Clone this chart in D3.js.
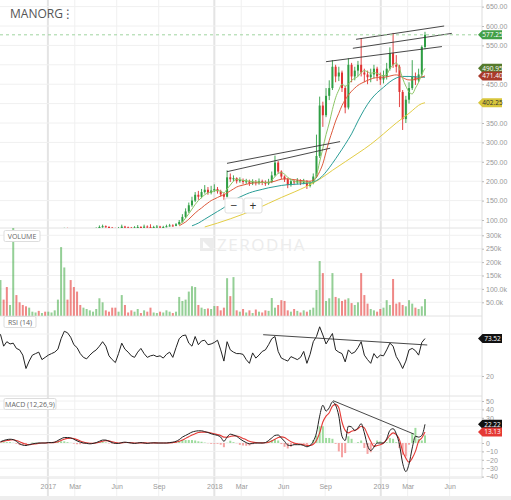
<!DOCTYPE html>
<html lang="en">
<head>
  <meta charset="UTF-8">
  <title>MANORG</title>
  <script src="https://d3js.org/d3.v7.min.js"></script>
  <style>
    body { margin: 0; background: #fff; }
    svg { display: block; font-family: "Open Sans", "DejaVu Sans", sans-serif; }
    .axis text { fill: #999; font-size: 7px; }
    .axis line { stroke: #bbb; }
    .axis .domain { display: none; }
    .pane-label rect { fill: #fff; stroke: #ddd; }
    .pane-label text { fill: #666; font-size: 7px; }
  </style>
</head>
<body>
<svg id="chart" width="511" height="500"></svg>
<script>
  // weekly bars, first week starting 2016-09-19
  var startWeek = new Date(2016, 8, 19);

  var closes = [72,70,68,69,70,67,65,64,61,62, 64,65,64,66,65,66,67,68,70,75,
    78,77,76,75,73,72,72,73,75,76, 78,82,84,82,80,78,77,79,83,81,
    80,79,81,82,80,83,82,81,82,83, 81,82,84,86,85,89,95,108,122,138,
    150,165,160,172,178,170,176,180,174,166, 160,210,205,208,200,203,198,200,195,198,
    195,200,196,194,198,215,248,225,212,205, 190,200,197,202,196,200,188,195,212,265,
    395,370,420,440,495,470,480,440,390,500, 470,485,500,480,475,468,475,490,470,462,
    470,490,530,500,495,430,360,410,440,470, 460,475,546,577.25];
  var highs = [75,73,71,71,73,71,68,66,65,64, 66,67,67,68,68,68,69,70,72,78,
    80,80,79,78,77,75,74,75,77,79, 81,86,88,86,84,82,80,82,88,85,
    83,82,84,87,84,88,86,89,85,87, 85,85,88,90,89,92,100,115,130,145,
    160,172,175,180,190,185,188,192,185,178, 170,228,220,215,210,210,207,206,204,205,
    203,207,204,202,206,225,266,252,228,215, 208,205,204,208,205,206,203,200,220,320,
    418,405,440,460,512,500,495,485,445,517, 505,495,510,569,490,485,490,500,495,480,
    485,505,545,582,525,500,435,420,455,512, 480,490,550,585];
  var lows = [70,68,66,66,67,65,63,62,59,59, 61,62,62,63,63,64,65,66,67,69,
    74,75,74,73,71,70,70,71,72,74, 75,77,80,80,78,76,75,76,78,79,
    78,77,78,79,78,79,80,79,80,80, 79,80,81,83,83,84,87,93,105,118,
    134,146,152,156,168,165,166,172,168,160, 152,158,198,200,194,196,192,193,188,190,
    189,191,190,188,190,195,212,220,205,198, 182,186,190,192,190,192,180,184,192,208,
    260,340,365,409,435,455,458,430,375,385, 455,460,470,470,455,450,455,465,458,448,
    452,462,485,492,480,391,332,350,400,435, 448,455,468,540];

  // volume, thousands
  var volumes = [133,60,107,40,330,77,50,40,35,30, 15,12,18,10,15,15,12,20,60,256,
    180,60,133,107,90,40,30,25,20,15, 25,65,50,20,15,30,30,15,77,40,
    12,20,15,25,10,20,15,30,12,10, 15,12,20,15,10,15,70,55,60,90,
    110,107,40,30,25,27,25,36,36,20, 30,140,73,144,20,15,25,12,20,10,
    23,15,12,20,18,66,30,40,58,55, 20,15,25,18,12,20,15,22,30,96,
    204,159,55,65,159,70,65,55,60,65, 47,40,50,159,77,45,25,20,15,25,
    30,58,40,137,45,50,40,35,58,45, 30,25,35,62];

  var rsi = [79.6,62.6,69.0,65.8,66.9,59.4,57.3,49.8,30.7,41.3, 49.8,52.0,54.1,43.4,46.6,49.8,52.0,54.1,58.3,73.3,
    83.9,81.8,75.4,64.7,60.5,52.0,46.6,44.5,49.8,54.1, 57.3,62.6,69.0,62.6,48.8,43.4,39.2,52.0,66.9,58.3,
    54.1,48.8,46.6,54.1,59.4,52.0,46.6,48.8,49.8,47.7, 48.8,45.6,50.9,54.1,46.6,60.5,73.3,77.5,78.6,66.9,
    62.6,76.4,64.7,70.1,71.1,64.7,65.8,67.9,71.1,57.3, 41.3,69.0,57.3,54.1,52.0,52.0,50.9,43.4,38.1,53.0,
    45.6,49.8,55.1,57.3,64.7,73.3,76.4,55.1,45.6,43.4, 41.3,47.7,45.6,43.4,46.6,55.1,38.1,50.9,69.0,76.4,
    90.3,78.6,65.8,73.3,80.7,57.3,54.1,52.0,40.2,57.3, 52.0,54.1,60.5,69.0,49.8,43.4,38.1,52.0,45.6,49.8,
    48.8,57.3,66.9,62.6,47.7,40.2,30.7,41.3,57.3,59.4, 56.2,49.8,67.9,73.52];

  var macd = [1.5,3,4,4.5,4,2,-1,-2.5,-3,-2, -1,-0.5,0,0,0,0.5,0.5,1,3,5,
    6.5,6.5,6,4.5,2.5,1,0,-0.5,-1,-0.5, 0.5,2,3.5,3.5,2,0.5,-0.5,-0.5,0.5,1,
    0.5,0,-0.5,0,0.5,0,-0.5,0,0.2,0, 0,0,0,0.5,1,2,4,7,9,11,
    13,14,14.5,14.5,13.5,12.5,11,10,9,7, 2,7,10.5,9.5,8,5,2.5,0.5,-1,-0.5,
    0,0,0,0.5,3,6,9,9.5,6,2, -2.5,-3,-2,-2,-2,-3,-4.5,-3,2,12,
    32,45,38,42,49,45,32,8,3,20, 19,15,18,23,12,-3,-9,-5,0,0,
    0,5,15,17,11,-2,-24,-34,-25,-6, 8,7,9,22.22];
  var signal = [1,2,3,3.5,3.8,3,1.5,0,-1.5,-2, -1.5,-1,-0.5,0,0,0.3,0.4,0.7,1.5,3,
    4.5,5.5,5.8,5.3,4,2.5,1.2,0.3,-0.3,-0.5, 0,1,2,2.8,2.5,1.5,0.5,0,0.2,0.6,
    0.6,0.3,0,0,0.2,0.2,0,0,0.1,0.1, 0,0,0,0.2,0.5,1,2,3.5,5.5,7.5,
    9.5,11,12.5,13,13,12.8,12,11,10,9, 7,6.8,7.8,8.5,8.3,7.2,5.5,3.8,2,1,
    0.5,0.3,0.2,0.3,1,2.5,4.5,6.5,7.3,6.5, 4,1.5,0,-1,-1.5,-2,-2.8,-3,-1.5,3,
    12,25,32,36,44,46,42,25,15,12, 14,15,17,20,18,10,2,-4,-3,-2,
    0,4,9,12,10,4,-10,-18,-23,-18, -10,2,6,13.13];

  // moving averages (week index, value)
  var maFastStart = 56;
  var maFast = [88,95,105,116,128,140,150,158,165,170, 172,175,176,174,170,180,190,200,205,204,
    202,201,200,199,198,198,197,197,197,202, 212,220,222,218,210,205,200,198,198,199,
    197,195,198,215,250,285,320,350,385,415, 435,450,445,450,460,465,470,480,485,482,
    478,480,478,474,472,475,490,500,505,490, 465,445,430,425,440,455,475,490.95];
  var maMidStart = 56;
  var maMid = [85,90,95,102,110,118,125,131,138,144, 150,154,158,162,165,170,175,180,185,188,
    190,192,194,195,196,196,197,197,197,198, 200,203,205,206,206,205,204,203,202,201,
    200,200,203,210,225,245,275,305,330,355, 375,395,410,422,432,440,447,452,456,460,
    463,466,467,468,468,469,471,473,474,472, 467,463,461,461,463,465,468,471.4];
  var maSlowWeeks = [60,62,64,66,68,70,72,74,76,78,80,82,84,86,88,90,92,94,96,98,
    100,102,104,106,108,110,112,114,116,118,120,122,124,126,128,130,132,133];
  var maSlow = [85,92,102,112,122,132,145,155,163,170,175,179,183,186,189,191,192,193,195,198,
    207,224,246,270,295,322,355,385,410,428,442,456,466,470,470,469,468,468];
  var ma200Weeks = [64,68,72,76,80,84,88,92,96,100,104,108,112,116,120,124,128,132,133];
  var ma200 = [82,92,103,115,128,143,158,172,187,205,228,250,272,295,322,350,375,400,402.25];

  // drawn trendlines: [week, value] pairs
  var priceTrends = [
    [[70.97, 246], [106.4, 302]],
    [[70.97, 224.5], [103.3, 285]],
    [[102.0, 508], [138.3, 547]],
    [[110.4, 542.5], [141.4, 581]],
    [[111.4, 565.7], [139.0, 600]]
  ];
  var rsiTrend = [[82.3, 79], [133.7, 64.3]];
  var macdTrend = [[104.2, 50.4], [129.6, 10.5]];

  var monthTicks = [["2016-09-01","Sep"],["2017-01-01","2017"],["2017-03-01","Mar"],["2017-06-01","Jun"],
    ["2017-09-01","Sep"],["2018-01-01","2018"],["2018-03-01","Mar"],["2018-06-01","Jun"],
    ["2018-09-01","Sep"],["2019-01-01","2019"],["2019-03-01","Mar"],["2019-06-01","Jun"]];
  var priceTicks = [100,150,200,250,300,350,400,450,500,550,600,650];
  var volTicks = [50,100,150,200,250,300];
  var volTickLabels = ["50.0k","100.0k","150k","200k","250k","300k"];
  var rsiTicks = [20, 80];
  var macdTicks = [-40,-30,-20,-10,0,10,20,30,40,50];

  // ---------- layout ----------
  var plotR = 482;
  var svg = d3.select("#chart");
  var parse = d3.timeParse("%Y-%m-%d");
  var weekDate = function(j) { return new Date(startWeek.getTime() + j * 7 * 864e5); };

  var x = d3.scaleTime()
      .domain([new Date(2016, 8, 18), new Date(2019, 7, 11)])
      .range([0, plotR]);
  var xj = function(j) { return x(weekDate(j)); };

  var panes = {
    price: [0, 228], vol: [228, 316], rsi: [316, 396], macd: [396, 478]
  };
  var yPrice = d3.scaleLinear().domain([100, 650]).range([220, 6.6]);
  var yVol = d3.scaleLinear().domain([0, 300]).range([315.7, 235.3]);
  var yRsi = d3.scaleLinear().domain([20, 80]).range([376, 334]);
  var yMacd = d3.scaleLinear().domain([0, 50]).range([443, 401]);

  var last = closes[closes.length - 1];
  var tagsPrice = [last, maFast[maFast.length - 1], maMid[maMid.length - 1], ma200[ma200.length - 1]];
  var tagsRsi = [rsi[rsi.length - 1]];
  var tagsMacd = [macd[macd.length - 1], signal[signal.length - 1]];

  var defs = svg.append("defs");
  Object.keys(panes).forEach(function(k) {
    defs.append("clipPath").attr("id", "clip-" + k)
      .append("rect").attr("x", 0).attr("y", panes[k][0])
      .attr("width", plotR).attr("height", panes[k][1] - panes[k][0]);
  });

  // vertical grid
  var grid = svg.append("g");
  grid.selectAll(".vgrid").data(monthTicks).enter().append("line")
    .attr("x1", function(d) { return x(parse(d[0])); })
    .attr("x2", function(d) { return x(parse(d[0])); })
    .attr("y1", 0).attr("y2", 496)
    .attr("stroke", function(d) { return /^\d/.test(d[1]) ? "#e4e4e4" : "#f0f0f0"; })
    .attr("stroke-width", function(d) { return /^\d/.test(d[1]) ? 2 : 1; });

  // horizontal grids
  function hgrid(ticks, y) {
    grid.selectAll(null).data(ticks).enter().append("line")
      .attr("x1", 0).attr("x2", plotR)
      .attr("y1", function(d) { return y(d); }).attr("y2", function(d) { return y(d); })
      .attr("stroke", "#f0f0f0");
  }
  hgrid(priceTicks, yPrice);
  hgrid(volTicks, yVol);
  hgrid(rsiTicks, yRsi);
  hgrid(macdTicks, yMacd);

  // pane separators + right edge
  grid.selectAll(".sep").data([228, 316, 396, 478]).enter().append("line")
    .attr("x1", 0).attr("x2", plotR).attr("y1", function(d) { return d; }).attr("y2", function(d) { return d; })
    .attr("stroke", "#e2e2e2");
  grid.append("line").attr("x1", plotR).attr("x2", plotR).attr("y1", 0).attr("y2", 478).attr("stroke", "#ddd");
  svg.append("rect").attr("x", 0).attr("y", 496).attr("width", 511).attr("height", 4).attr("fill", "#eee");

  // watermark
  var wm = svg.append("g").attr("fill", "#ececec");
  wm.append("path").attr("d", "M200,238 L213,238 L213,251 L200,251 Z M203,241 L210,248 L203,248 Z").attr("fill-rule", "evenodd");
  wm.append("text").attr("x", 217).attr("y", 251).attr("font-size", 17).attr("letter-spacing", 1.5).text("ZERODHA");

  // ---------- price pane ----------
  var pg = svg.append("g").attr("clip-path", "url(#clip-price)");
  var bars = closes.map(function(c, j) {
    return { j: j, o: j ? closes[j - 1] : c, c: c, h: highs[j], l: lows[j], v: volumes[j] };
  });
  var upCol = "#2f9e44", dnCol = "#e03131";

  pg.selectAll(".wick").data(bars).enter().append("line")
    .attr("x1", function(d) { return xj(d.j); }).attr("x2", function(d) { return xj(d.j); })
    .attr("y1", function(d) { return yPrice(d.h); }).attr("y2", function(d) { return yPrice(d.l); })
    .attr("stroke", function(d) { return d.c >= d.o ? upCol : dnCol; }).attr("stroke-width", 0.9);
  pg.selectAll(".body").data(bars).enter().append("rect")
    .attr("x", function(d) { return xj(d.j) - 1; }).attr("width", 2)
    .attr("y", function(d) { return yPrice(Math.max(d.o, d.c)); })
    .attr("height", function(d) { return Math.max(1, Math.abs(yPrice(d.o) - yPrice(d.c))); })
    .attr("fill", function(d) { return d.c >= d.o ? upCol : dnCol; });

  function maLine(weeks, vals, color) {
    var pts = vals.map(function(v, i) { return [weeks[i], v]; });
    pg.append("path").datum(pts)
      .attr("fill", "none").attr("stroke", color).attr("stroke-width", 1)
      .attr("d", d3.line().curve(d3.curveMonotoneX)
        .x(function(d) { return xj(d[0]); }).y(function(d) { return yPrice(d[1]); }));
  }
  maLine(ma200Weeks, ma200, "#e3cd45");
  maLine(maSlowWeeks, maSlow, "#2a9d96");
  maLine(maMid.map(function(v, i) { return maMidStart + i; }), maMid, "#dd5a3c");
  maLine(maFast.map(function(v, i) { return maFastStart + i; }), maFast, "#8cc665");

  pg.selectAll(".trend").data(priceTrends).enter().append("line")
    .attr("x1", function(d) { return xj(d[0][0]); }).attr("y1", function(d) { return yPrice(d[0][1]); })
    .attr("x2", function(d) { return xj(d[1][0]); }).attr("y2", function(d) { return yPrice(d[1][1]); })
    .attr("stroke", "#333").attr("stroke-width", 0.9);

  // last price dashed line
  svg.append("line").attr("x1", 0).attr("x2", plotR)
    .attr("y1", yPrice(last)).attr("y2", yPrice(last))
    .attr("stroke", "#9fd49f").attr("stroke-dasharray", "3,3");

  // ---------- volume ----------
  svg.append("g").attr("clip-path", "url(#clip-vol)")
    .selectAll("rect").data(bars).enter().append("rect")
    .attr("x", function(d) { return xj(d.j) - 1; }).attr("width", 2)
    .attr("y", function(d) { return yVol(d.v); })
    .attr("height", function(d) { return yVol(0) - yVol(d.v); })
    .attr("fill", function(d) { return d.c >= d.o ? "rgba(76,175,80,0.6)" : "rgba(229,57,53,0.6)"; });

  // ---------- RSI ----------
  var rg = svg.append("g").attr("clip-path", "url(#clip-rsi)");
  rg.append("path").datum(rsi).attr("fill", "none").attr("stroke", "#222").attr("stroke-width", 1)
    .attr("d", d3.line().x(function(d, i) { return xj(i); }).y(function(d) { return yRsi(d); }));
  rg.append("line")
    .attr("x1", xj(rsiTrend[0][0])).attr("y1", yRsi(rsiTrend[0][1]))
    .attr("x2", xj(rsiTrend[1][0])).attr("y2", yRsi(rsiTrend[1][1]))
    .attr("stroke", "#333").attr("stroke-width", 0.9);

  // ---------- MACD ----------
  var mg = svg.append("g").attr("clip-path", "url(#clip-macd)");
  mg.selectAll("rect").data(macd).enter().append("rect")
    .attr("x", function(d, i) { return xj(i) - 1; }).attr("width", 2)
    .attr("y", function(d, i) { return yMacd(Math.max(0, d - signal[i])); })
    .attr("height", function(d, i) { return Math.abs(yMacd(d - signal[i]) - yMacd(0)); })
    .attr("fill", function(d, i) { return d - signal[i] >= 0 ? "#9edc9e" : "#f5a3a3"; });
  mg.append("path").datum(signal).attr("fill", "none").attr("stroke", "#e53935").attr("stroke-width", 1.1)
    .attr("d", d3.line().curve(d3.curveMonotoneX).x(function(d, i) { return xj(i); }).y(function(d) { return yMacd(d); }));
  mg.append("path").datum(macd).attr("fill", "none").attr("stroke", "#222").attr("stroke-width", 1)
    .attr("d", d3.line().curve(d3.curveMonotoneX).x(function(d, i) { return xj(i); }).y(function(d) { return yMacd(d); }));
  mg.append("line")
    .attr("x1", xj(macdTrend[0][0])).attr("y1", yMacd(macdTrend[0][1]))
    .attr("x2", xj(macdTrend[1][0])).attr("y2", yMacd(macdTrend[1][1]))
    .attr("stroke", "#333").attr("stroke-width", 0.9);

  // ---------- axes ----------
  // labels sitting under a value tag are hidden by it, as in the source chart
  function rightAxis(scale, ticks, fmt, tagVals) {
    var shown = ticks.filter(function(t) {
      return tagVals.every(function(v) { return Math.abs(scale(t) - scale(v)) > 5.5; });
    });
    svg.append("g").attr("class", "axis").attr("transform", "translate(" + plotR + ",0)")
      .call(d3.axisRight(scale).tickValues(shown).tickSize(2).tickPadding(2).tickFormat(fmt));
  }
  rightAxis(yPrice, priceTicks, d3.format(".2f"), tagsPrice);
  rightAxis(yVol, volTicks, function(d) { return volTickLabels[volTicks.indexOf(d)]; }, []);
  rightAxis(yRsi, rsiTicks, d3.format("d"), tagsRsi);
  rightAxis(yMacd, macdTicks, d3.format("d"), tagsMacd);

  svg.append("g").attr("class", "axis").attr("transform", "translate(0,481)")
    .call(d3.axisBottom(x).tickValues(monthTicks.map(function(d) { return parse(d[0]); }))
      .tickSize(0).tickFormat(function(d, i) { return monthTicks[i][1]; }))
    .selectAll("text").attr("font-size", 7.5);

  // ---------- value tags ----------
  function tag(y, label, fill, txt) {
    var g = svg.append("g").attr("transform", "translate(478," + y + ")");
    g.append("path").attr("d", "M0,0 L4.5,-4.5 L24,-4.5 L24,4.5 L4.5,4.5 Z").attr("fill", fill);
    g.append("text").attr("x", 14.5).attr("y", 2.3).attr("text-anchor", "middle")
      .attr("font-size", 6.5).attr("fill", txt).text(label);
  }
  var f2 = d3.format(".2f");
  tag(yPrice(tagsPrice[0]), f2(tagsPrice[0]), "#43a047", "#fff");
  tag(yPrice(tagsPrice[1]), f2(tagsPrice[1]), "#557a2c", "#fff");
  tag(yPrice(tagsPrice[2]), f2(tagsPrice[2]), "#a93a2b", "#fff");
  tag(yPrice(tagsPrice[3]), f2(tagsPrice[3]), "#d8c63c", "#333");
  tag(yRsi(tagsRsi[0]), f2(tagsRsi[0]), "#111", "#fff");
  tag(yMacd(tagsMacd[0]), f2(tagsMacd[0]), "#111", "#fff");
  tag(yMacd(tagsMacd[1]), f2(tagsMacd[1]), "#e53935", "#fff");

  // ---------- labels ----------
  svg.append("text").attr("x", 10).attr("y", 18).attr("font-size", 12).attr("fill", "#555").text("MANORG");
  svg.append("text").attr("x", 62).attr("y", 18).attr("font-size", 12).attr("fill", "#555").text("⋮");

  function paneLabel(y, w, label) {
    var g = svg.append("g").attr("class", "pane-label").attr("transform", "translate(4," + y + ")");
    g.append("rect").attr("width", w).attr("height", 11).attr("rx", 1.5);
    g.append("text").attr("x", w / 2).attr("y", 8).attr("text-anchor", "middle").text(label);
  }
  paneLabel(230.5, 36, "VOLUME");
  paneLabel(316.5, 32, "RSI (14)");
  paneLabel(398.5, 52, "MACD (12,26,9)");

  // zoom buttons
  var zb = svg.append("g").attr("transform", "translate(225,198)");
  [["−", 0], ["+", 19]].forEach(function(b) {
    zb.append("rect").attr("x", b[1]).attr("width", 18).attr("height", 15).attr("rx", 2)
      .attr("fill", "#fff").attr("stroke", "#e0e0e0");
    zb.append("text").attr("x", b[1] + 9).attr("y", 11.5).attr("text-anchor", "middle")
      .attr("font-size", 12).attr("fill", "#333").text(b[0]);
  });
</script>
</body>
</html>
